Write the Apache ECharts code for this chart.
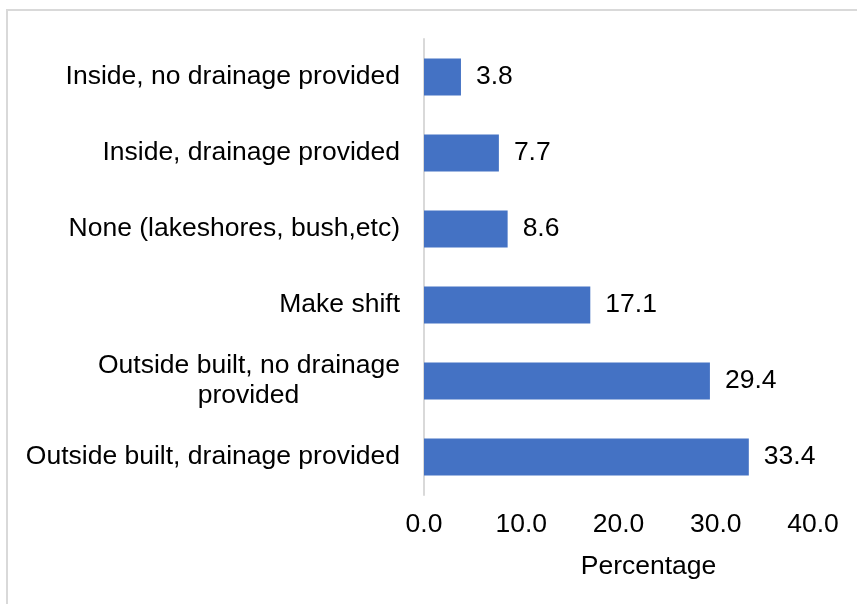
<!DOCTYPE html>
<html>
<head>
<meta charset="utf-8">
<script src="https://cdn.jsdelivr.net/npm/echarts@6/dist/echarts.min.js"></script>
<style>
  html, body { margin: 0; padding: 0; background: #fff; }
  #chart { width: 857px; height: 604px; }
</style>
</head>
<body>
<div id="chart"></div>
<script>
var categories = [
    'Outside built, drainage provided',
    'Outside built, no drainage\nprovided',
    'Make shift',
    'None (lakeshores, bush,etc)',
    'Inside, drainage provided',
    'Inside, no drainage provided'
];
var values = [33.4, 29.4, 17.1, 8.6, 7.7, 3.8];
var xTicks = [0, 10, 20, 30, 40];

var font = 'Liberation Sans, Arial, sans-serif';
var fs = 26.5;

function get_option() {
    var option = {
        animation: false,
        graphic: [{
            type: 'rect',
            shape: { x: 7, y: 10, width: 900, height: 700 },
            style: { fill: 'none', stroke: '#d9d9d9', lineWidth: 2 },
            silent: true
        }],
        grid: {
            left: 424,
            right: 44,
            top: 39,
            bottom: 109
        },
        xAxis: {
            type: 'value',
            min: xTicks[0],
            max: xTicks[xTicks.length - 1],
            interval: 10,
            name: 'Percentage',
            nameLocation: 'middle',
            nameGap: 58,
            nameTextStyle: { color: '#000', fontSize: fs, fontFamily: font, padding: [0, 0, 0, 60] },
            axisLine: { show: false },
            axisTick: { show: false },
            splitLine: { show: false },
            axisLabel: {
                color: '#000',
                fontSize: fs,
                fontFamily: font,
                margin: 16,
                formatter: function (v) { return v.toFixed(1); }
            }
        },
        yAxis: {
            type: 'category',
            data: categories,
            axisLine: { show: true, lineStyle: { color: '#d9d9d9', width: 2 } },
            axisTick: { show: false },
            axisLabel: {
                color: '#000',
                fontSize: fs,
                fontFamily: font,
                margin: 24,
                lineHeight: 30,
                formatter: function (v) {
                    var parts = v.split('\n');
                    if (parts.length === 1) return v;
                    return '{a|' + parts[0] + '}\n{b|' + parts[1] + '}';
                },
                rich: {
                    a: { fontSize: fs, fontFamily: font, color: '#000', lineHeight: 30 },
                    b: { fontSize: fs, fontFamily: font, color: '#000', lineHeight: 30, width: 303, align: 'center' }
                }
            }
        },
        series: [{
            type: 'bar',
            data: values,
            barWidth: 37,
            itemStyle: { color: '#4472c4' },
            label: {
                show: true,
                position: 'right',
                distance: 15,
                color: '#000',
                fontSize: fs,
                fontFamily: font,
                formatter: function (p) { return p.value.toFixed(1); }
            }
        }]
    };
    return option;
}

var myChart = echarts.init(document.getElementById('chart'));
myChart.setOption(get_option());
</script>
</body>
</html>
